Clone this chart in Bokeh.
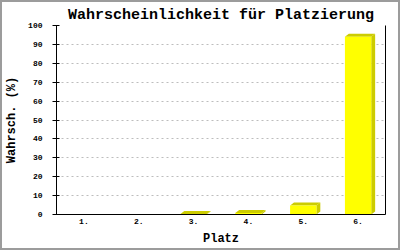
from bokeh.plotting import figure
from bokeh.models import FixedTicker, LinearAxis, Range1d
from bokeh.embed import file_html
from bokeh.resources import INLINE

categories = ["1.", "2.", "3.", "4.", "5.", "6."]
values = [0, 0, 0.3, 0.8, 4.8, 94.1]
y_ticks = list(range(0, 101, 10))

title_text = "Wahrscheinlichkeit für Platzierung"
x_label = "Platz"
y_label = "Wahrsch. (%)"

FONT = "Liberation Mono"
W, H = 400, 250
ML, MR, MT, MB = 46, 17, 23, 38
frame_w = W - ML - MR
frame_h = H - MT - MB

p = figure(width=W, height=H, output_backend="svg", toolbar_location=None,
           x_range=Range1d(0, len(categories)), y_range=Range1d(0, 100),
           min_border_left=ML, min_border_right=MR, min_border_top=MT, min_border_bottom=MB,
           title=title_text)
p.styles = {"border": "2px solid #9c9c9c"}
p.background_fill_color = "white"
p.border_fill_color = "white"
p.outline_line_color = None

p.title.text_font = FONT
p.title.text_font_size = "15px"
p.title.text_font_style = "bold"
p.title.text_color = "black"
p.title.align = "center"
p.title.offset = 25
p.title.standoff = 4

# x axis
centers = [i + 0.5 for i in range(len(categories))]
xa = p.xaxis[0]
xa.ticker = FixedTicker(ticks=centers)
xa.major_label_overrides = {c: lab for c, lab in zip(centers, categories)}
xa.major_tick_line_color = None
xa.minor_tick_line_color = None
xa.major_label_standoff = -2
xa.major_label_text_font = FONT
xa.major_label_text_font_size = "8px"
xa.major_label_text_font_style = "bold"
xa.major_label_text_color = "black"
xa.axis_line_color = "black"
xa.axis_label = x_label
xa.axis_label_text_font = FONT
xa.axis_label_text_font_size = "12px"
xa.axis_label_text_font_style = "bold"
xa.axis_label_text_color = "black"
xa.axis_label_standoff = 5

# y axis
ya = p.yaxis[0]
ya.ticker = FixedTicker(ticks=y_ticks)
ya.minor_tick_line_color = None
ya.major_tick_out = 4
ya.major_tick_in = 3
ya.major_label_standoff = 10
ya.major_label_text_font = FONT
ya.major_label_text_font_size = "8px"
ya.major_label_text_font_style = "bold"
ya.major_label_text_color = "black"
ya.axis_line_color = "black"
ya.axis_label = y_label
ya.axis_label_text_font = FONT
ya.axis_label_text_font_size = "12px"
ya.axis_label_text_font_style = "bold"
ya.axis_label_text_color = "black"
ya.axis_label_standoff = 6

# right frame line
ra = LinearAxis(ticker=FixedTicker(ticks=[]), major_label_text_font_size="0px",
                major_tick_line_color=None, minor_tick_line_color=None, axis_line_color="black")
p.add_layout(ra, "right")

p.xgrid.grid_line_color = None
p.ygrid.ticker = FixedTicker(ticks=y_ticks)
p.ygrid.grid_line_color = "#bdbdbd"
p.ygrid.grid_line_dash = "2 3"

# 3D bars
bw = 0.48
dx = 4 / (frame_w / len(categories))
dy = 3 / (frame_h / 100)
front_col = "#ffff00"
dark_col = "#cccc00"

xs_top, ys_top, xs_side, ys_side = [], [], [], []
fx, fv = [], []
for c, v in zip(centers, values):
    if v <= 0:
        continue
    l, r = c - bw / 2, c + bw / 2
    fx.append(c); fv.append(v)
    xs_top.append([l, l + dx, r + dx, r]); ys_top.append([v, v + dy, v + dy, v])
    xs_side.append([r, r + dx, r + dx, r]); ys_side.append([v, v + dy, dy, 0])

p.patches(xs_side, ys_side, fill_color=dark_col, line_color=None)
p.patches(xs_top, ys_top, fill_color=dark_col, line_color=None)
p.vbar(x=fx, top=fv, bottom=0, width=bw, fill_color=front_col, line_color=None)

open("out.html", "w").write(file_html(p, INLINE))
